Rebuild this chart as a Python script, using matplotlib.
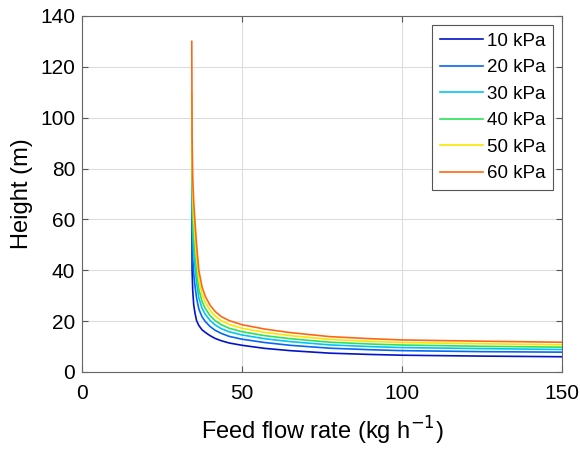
import numpy as np
import matplotlib
matplotlib.use('Agg')
from matplotlib import pyplot as plt

# feed flow rate (kg/h), common grid for all curves
flow = [34.3, 34.4, 34.6, 34.9, 35.3, 35.8, 36.5, 37.5, 38.5, 40, 41.6, 43.5,
        46, 50, 57, 65, 77.5, 90, 100, 125, 150]

# height (m)
h_10 = [72, 40, 32, 26.5, 23.2, 20.2, 18.3, 16.6, 15.6, 14.3, 13.2, 12.3,
        11.4, 10.5, 9.3, 8.4, 7.4, 6.9, 6.6, 6.25, 6.0]
h_20 = [80, 55.6, 45.2, 38.7, 33.9, 29.1, 24.8, 21.7, 19.9, 17.9, 16.4, 15.2,
        14.0, 12.9, 11.6, 10.5, 9.35, 8.76, 8.4, 8.0, 7.8]
h_30 = [88, 66, 54, 46.8, 41.1, 35.1, 29.2, 25.1, 22.7, 20.3, 18.5, 17.05,
        15.8, 14.55, 13.1, 11.95, 10.65, 10.0, 9.6, 9.2, 8.85]
h_40 = [95, 74.3, 61, 53.2, 46.8, 39.9, 32.6, 27.8, 25.0, 22.2, 20.2, 18.6,
        17.2, 15.85, 14.3, 13.1, 11.7, 11.0, 10.6, 10.1, 9.76]
h_50 = [110, 83, 68.5, 60.1, 52.9, 44.9, 36.3, 30.6, 27.4, 24.3, 22.0, 20.2,
        18.7, 17.2, 15.6, 14.3, 12.8, 12.05, 11.6, 11.1, 10.7]
h_60 = [130, 92, 76, 67, 59, 50, 40, 33.5, 29.8, 26.3, 23.8, 21.8,
        20.2, 18.6, 16.9, 15.5, 13.9, 13.1, 12.6, 12.1, 11.7]

labels = ['10 kPa', '20 kPa', '30 kPa', '40 kPa', '50 kPa', '60 kPa']
colors = ['#0414C8', '#0766F5', '#04C4F0', '#2EE05A', '#FAE600', '#FF6614']

plt.rcParams['font.family'] = ['Liberation Sans', 'DejaVu Sans']

fig = plt.figure(figsize=(5.8, 4.49), dpi=100)
ax = fig.add_axes([0.1414, 0.1715, 0.8276, 0.793])

for h, lab, c in zip([h_10, h_20, h_30, h_40, h_50, h_60], labels, colors):
    ax.plot(flow, h, color=c, lw=1.2, label=lab)

ax.set_xlim(0, 150)
ax.set_ylim(0, 140)
ax.set_xticks([0, 50, 100, 150])
ax.set_yticks(np.arange(0, 141, 20))
ax.grid(True, color='#dcdcdc', lw=0.8)
ax.set_axisbelow(True)
ax.tick_params(direction='in', top=True, right=True, labelsize=15,
               color='#555555', length=4, width=0.8, pad=5)
ax.tick_params(axis='x', pad=9)
for s in ax.spines.values():
    s.set_color('#666666')
    s.set_linewidth(0.8)

ax.set_xlabel('Feed flow rate (kg h$^{-1}$)', fontsize=17, labelpad=8)
ax.set_ylabel('Height (m)', fontsize=17, labelpad=5)

leg = ax.legend(loc='upper right', fontsize=13.5, handlelength=2.3,
                handletextpad=0.2, labelspacing=0.5, borderaxespad=0.5,
                fancybox=False, framealpha=1, edgecolor='#555555')
leg.get_frame().set_linewidth(0.8)

fig.savefig('out.png', dpi=100)
